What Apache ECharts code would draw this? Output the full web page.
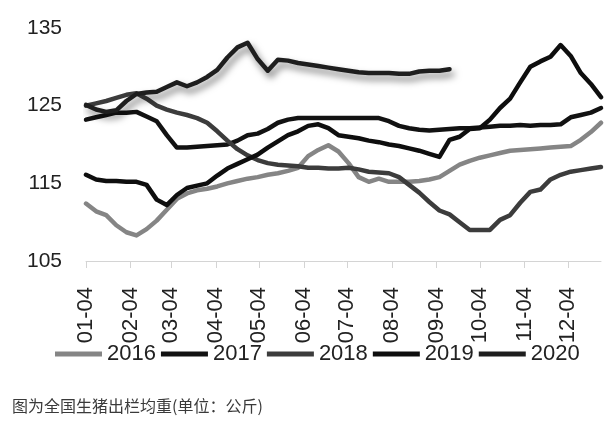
<!DOCTYPE html>
<html>
<head>
<meta charset="utf-8">
<script src="https://cdn.jsdelivr.net/npm/echarts@6/dist/echarts.min.js"></script>
<style>
html,body{margin:0;padding:0;background:#fff;}
#chart{width:609px;height:426px;}
</style>
</head>
<body>
<div id="chart"></div>
<script>
// Legend / series names
const seriesNames = ['2016', '2017', '2018', '2019', '2020'];
// y-axis ticks
const yMin = 105, yMax = 135, yStep = 10;
const caption = '图为全国生猪出栏均重(单位：公斤)';

// Weekly values (starting 01-04, every 7 days)
const v2016 = [112.4,111.4,110.9,109.6,108.7,108.3,109.1,110.2,111.6,113.0,113.7,114.1,114.3,114.6,115.0,115.3,115.6,115.8,116.1,116.3,116.6,117.0,118.5,119.3,119.9,119.1,117.6,115.8,115.2,115.6,115.2,115.2,115.2,115.3,115.5,115.8,116.6,117.4,117.9,118.3,118.6,118.9,119.2,119.3,119.4,119.5,119.6,119.7,119.8,120.6,121.6,122.8];
const v2017 = [123.2,123.5,123.8,124.1,124.1,124.2,123.6,123.0,121.2,119.6,119.6,119.7,119.8,119.9,120.0,120.5,121.2,121.4,122.0,122.8,123.2,123.4,123.4,123.4,123.4,123.4,123.4,123.4,123.4,123.4,123.0,122.4,122.1,121.9,121.8,121.9,122.0,122.1,122.1,122.2,122.3,122.4,122.4,122.5,122.4,122.5,122.5,122.6,123.5,123.8,124.1,124.7];
const v2018 = [125.0,125.3,125.6,126.0,126.4,126.6,125.9,125.0,124.5,124.1,123.8,123.4,122.8,121.7,120.5,119.4,118.6,118.0,117.6,117.4,117.3,117.2,117.0,117.0,116.9,116.9,117.0,116.8,116.5,116.4,116.3,115.8,114.8,113.8,112.6,111.5,111.0,110.0,109.0,109.0,109.0,110.3,110.9,112.5,113.9,114.2,115.5,116.1,116.5,116.7,116.9,117.1];
const v2019 = [116.1,115.5,115.3,115.3,115.2,115.2,114.8,112.9,112.2,113.5,114.4,114.7,115.0,116.0,116.9,117.5,118.1,118.7,119.6,120.4,121.2,121.7,122.4,122.6,122.1,121.2,121.0,120.8,120.5,120.3,120.0,119.8,119.5,119.2,118.8,118.4,120.6,121.0,122.0,122.1,123.2,124.7,125.9,128.0,130.0,130.7,131.3,132.8,131.4,129.2,127.8,126.1];
const v2020 = [125.1,124.5,124.2,124.4,125.6,126.5,126.7,126.8,127.4,128.0,127.5,128.0,128.7,129.6,131.2,132.5,133.1,131.0,129.5,130.9,130.8,130.5,130.3,130.1,129.9,129.7,129.5,129.3,129.2,129.2,129.2,129.1,129.1,129.4,129.5,129.5,129.7];

// Category axis: each day from 01-04 to 12-27 (labels shown on the 4th of each month)
function mmdd(d){
  const m = String(d.getUTCMonth()+1).padStart(2,'0');
  const day = String(d.getUTCDate()).padStart(2,'0');
  return m + '-' + day;
}
const dayCats = [];
const start = Date.UTC(2021,0,4), end = Date.UTC(2021,11,27);
for (let t = start; t <= end; t += 86400000) dayCats.push(mmdd(new Date(t)));
const weekCats = [];
for (let t = start; t <= end; t += 7*86400000) weekCats.push(mmdd(new Date(t)));

const allValues = [v2016, v2017, v2018, v2019, v2020];
const colors = ['#858585', '#121212', '#3c3c3c', '#0e0e0e', '#1e1e1e'];

const series = allValues.map((vals, i) => {
  const s = {
    name: seriesNames[i],
    type: 'line',
    symbol: 'none',
    smooth: false,
    data: vals.map((v, k) => [weekCats[k], v]),
    lineStyle: { color: colors[i], width: 4.5, join: 'round', cap: 'round' },
    itemStyle: { color: colors[i] },
    z: 2 + i
  };
  if (i === 4) {
    s.lineStyle.shadowColor = 'rgba(0,0,0,0.5)';
    s.lineStyle.shadowBlur = 7;
    s.lineStyle.shadowOffsetX = 3;
    s.lineStyle.shadowOffsetY = 5;
  }
  return s;
});

const showLabel = (idx, val) => val.slice(3) === '04';

const chart = echarts.init(document.getElementById('chart'), null, { renderer: 'canvas' });
chart.setOption({
  animation: false,
  backgroundColor: '#fff',
  grid: { left: 86, right: 8, top: 28, bottom: 165 },
  xAxis: {
    type: 'category',
    data: dayCats,
    boundaryGap: false,
    axisLine: { show: true, lineStyle: { color: '#d4d4d4', width: 1 } },
    axisTick: { show: true, interval: showLabel, length: 7, lineStyle: { color: '#d4d4d4' } },
    axisLabel: {
      interval: showLabel,
      rotate: 90,
      margin: 26,
      fontSize: 22,
      fontFamily: 'Liberation Sans',
      color: '#222'
    },
    splitLine: { show: false }
  },
  yAxis: {
    type: 'value',
    min: yMin,
    max: yMax,
    interval: yStep,
    axisLine: { show: false },
    axisTick: { show: false },
    splitLine: { show: false },
    axisLabel: { margin: 24, fontSize: 21, fontFamily: 'Liberation Sans', color: '#222' }
  },
  legend: {
    data: seriesNames,
    left: 50,
    top: 338,
    icon: 'rect',
    itemWidth: 47,
    itemHeight: 5,
    itemGap: 5,
    textStyle: { fontSize: 22, fontFamily: 'Liberation Sans', color: '#222', padding: [0,0,0,0] }
  },
  graphic: [{
    type: 'text',
    left: 12,
    top: 398,
    style: { text: caption, fontSize: 16, fontFamily: 'Noto Sans CJK SC', fill: '#3a3a3a' }
  }],
  series: series
});
</script>
</body>
</html>
